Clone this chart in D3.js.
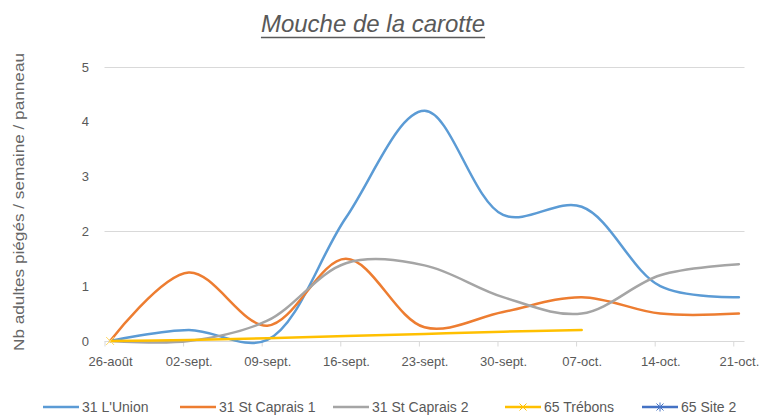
<!DOCTYPE html>
<html>
<head>
<meta charset="utf-8">
<script src="https://cdn.jsdelivr.net/npm/d3@7/dist/d3.min.js"></script>
<style>
  html, body { margin: 0; padding: 0; background: #fff; }
  svg { display: block; font-family: "Liberation Sans", Arial, sans-serif; }
</style>
</head>
<body>
<svg id="chart" width="763" height="415"></svg>
<script>
// ---- data ----
const title = "Mouche de la carotte";
const yTitle = "Nb adultes piégés / semaine / panneau";
const dates = ["2019-08-26","2019-09-02","2019-09-09","2019-09-16","2019-09-23","2019-09-30","2019-10-07","2019-10-14","2019-10-21"];
const tickLabels = ["26-août","02-sept.","09-sept.","16-sept.","23-sept.","30-sept.","07-oct.","14-oct.","21-oct."];
const yTicks = [0, 1, 2, 3, 4, 5];
const gridValues = [2, 5];
const seriesNames = ["31 L'Union", "31 St Caprais 1", "31 St Caprais 2", "65 Trébons", "65 Site 2"];
const unionValues    = [0, 0.2, 0.02, 2.25, 4.2, 2.3, 2.45, 1.0, 0.8];
const caprais1Values = [0, 1.25, 0.28, 1.5, 0.25, 0.53, 0.8, 0.5, 0.5];
const caprais2Values = [0, 0, 0.37, 1.42, 1.38, 0.8, 0.5, 1.2, 1.4];
const trebonsValues  = [0, 0.02, 0.05, 0.09, 0.13, 0.17, 0.2, null, null];
const site2Values    = [null, null, null, null, null, null, null, null, null];
const colors = ["#5b9bd5", "#ed7d31", "#a5a5a5", "#ffc000", "#4472c4"];
const markers = [null, null, null, "x", "star"];
// Trébons marker only visible on the first point
const trebonsMarkerIdx = [0];

const allValues = [unionValues, caprais1Values, caprais2Values, trebonsValues, site2Values];

// ---- layout ----
const svg = d3.select("#chart");
const parse = d3.utcParse("%Y-%m-%d");
const dayMs = 86400000;
const d0 = parse(dates[0]);
const dEnd = new Date(parse(dates[dates.length - 1]).getTime() + dayMs);

const x = d3.scaleUtc().domain([d0, dEnd]).range([104.5, 744.5]);
const y = d3.scaleLinear().domain([0, 5]).range([341, 67]);
const halfDay = x(new Date(d0.getTime() + dayMs / 2)) - x(d0);
const px = (i) => x(parse(dates[i])) + halfDay;

// title
const t = svg.append("text")
  .attr("x", 373).attr("y", 32)
  .attr("text-anchor", "middle")
  .attr("font-size", 24)
  .attr("font-style", "italic")
  .attr("fill", "#595959")
  .text(title);
const tb = t.node().getBBox();
svg.append("line")
  .attr("x1", tb.x).attr("x2", tb.x + tb.width)
  .attr("y1", 37.5).attr("y2", 37.5)
  .attr("stroke", "#595959").attr("stroke-width", 1.5);

// gridlines
svg.append("g").selectAll("line").data(gridValues).join("line")
  .attr("x1", x.range()[0]).attr("x2", x.range()[1])
  .attr("y1", d => Math.round(y(d)) + 0.5).attr("y2", d => Math.round(y(d)) + 0.5)
  .attr("stroke", "#d9d9d9").attr("stroke-width", 1);

// x axis
const xAxis = d3.axisBottom(x)
  .tickValues(dates.map(parse))
  .tickSize(5).tickPadding(10)
  .tickFormat((d, i) => tickLabels[i]);
const gx = svg.append("g").attr("transform", "translate(0,341.5)").call(xAxis);
gx.select(".domain").attr("stroke", "#d9d9d9").attr("d", `M${x.range()[0]},0H${x.range()[1]}`);
gx.selectAll(".tick line").attr("stroke", "#d9d9d9");
gx.selectAll(".tick text").attr("fill", "#595959").attr("font-size", 13)
  .attr("dx", halfDay).attr("font-family", "Liberation Sans, Arial, sans-serif");

// y axis
const yAxis = d3.axisLeft(y).tickValues(yTicks).tickSize(0).tickPadding(15).tickFormat(d3.format("d"));
const gy = svg.append("g").attr("transform", "translate(104,0)").call(yAxis);
gy.select(".domain").remove();
gy.selectAll(".tick text").attr("fill", "#595959").attr("font-size", 13)
  .attr("font-family", "Liberation Sans, Arial, sans-serif");

// y title
svg.append("text")
  .attr("transform", "translate(24,202) rotate(-90)")
  .attr("text-anchor", "middle")
  .attr("font-size", 15)
  .attr("fill", "#666")
  .attr("textLength", 298).attr("lengthAdjust", "spacingAndGlyphs")
  .text(yTitle);

// lines
const line = d3.line()
  .defined(d => d.v !== null)
  .x(d => px(d.i))
  .y(d => y(d.v))
  .curve(d3.curveCatmullRom.alpha(0.5));

const gLines = svg.append("g");
allValues.forEach((vals, s) => {
  const pts = vals.map((v, i) => ({ i, v })).filter(d => d.v !== null);
  if (!pts.length) return;
  gLines.append("path")
    .datum(pts)
    .attr("fill", "none")
    .attr("stroke", colors[s])
    .attr("stroke-width", 2.5)
    .attr("stroke-linecap", "round")
    .attr("stroke-linejoin", "round")
    .attr("d", line);
});

function drawMarker(g, type, cx, cy, color, r) {
  if (type === "x" || type === "star") {
    g.append("path")
      .attr("d", `M${cx - r},${cy - r}L${cx + r},${cy + r}M${cx - r},${cy + r}L${cx + r},${cy - r}`)
      .attr("stroke", color).attr("stroke-width", 1).attr("fill", "none");
  }
  if (type === "star") {
    g.append("path")
      .attr("d", `M${cx},${cy - r - 1}L${cx},${cy + r + 1}`)
      .attr("stroke", color).attr("stroke-width", 1).attr("fill", "none");
  }
}

// Trébons marker(s)
trebonsMarkerIdx.forEach(i => {
  drawMarker(gLines, "x", px(i), y(trebonsValues[i]), "#ffd966", 4);
});

// legend
const legend = svg.append("g");
const legendY = 407;
const legendStarts = [43, 180, 333, 505, 642];
seriesNames.forEach((name, s) => {
  const g = legend.append("g").attr("transform", `translate(${legendStarts[s]},${legendY})`);
  g.append("line").attr("x1", 0).attr("x2", 36).attr("y1", 0).attr("y2", 0)
    .attr("stroke", colors[s]).attr("stroke-width", 2.5);
  if (markers[s]) drawMarker(g, markers[s], 18, 0, colors[s], 3.5);
  g.append("text").attr("x", 39).attr("y", 0).attr("dy", "0.35em")
    .attr("font-size", 14).attr("fill", "#595959").text(name);
});
</script>
</body>
</html>
